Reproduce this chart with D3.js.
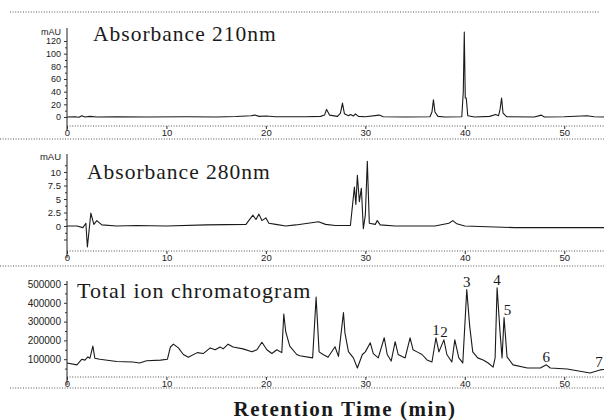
<!DOCTYPE html>
<html>
<head>
    <title>Chromatograms</title>
    <script src="https://cdnjs.cloudflare.com/ajax/libs/d3/7.8.5/d3.min.js"></script>
    <style>
        body { margin: 0; background: #fff; }
        svg { display: block; }
        .trace { fill: none; stroke: #1a1a1a; stroke-width: 1.1px; stroke-linejoin: round; }
        .dots { stroke: #555; stroke-width: 1px; stroke-dasharray: 1,1.6; }
        .axis path, .axis line { stroke: #333; }
        .axis text { font-family: "Liberation Sans", sans-serif; fill: #222; }
        .title { font-family: "Liberation Serif", serif; fill: #1a1a1a; }
    </style>
</head>
<body>
<div id="chart"></div>
<script>
// retention time axis
const timeTicks = [0, 10, 20, 30, 40, 50];

// Absorbance 210nm (min, mAU)
const abs210Time = [0, 0.8, 1.2, 1.5, 1.8, 2.3, 3, 5, 8, 12, 15, 17, 18.5, 18.9, 19.3, 20, 21, 24, 25.5, 25.9, 26.1, 26.4,
    27.2, 27.5, 27.7, 27.9, 28.3, 28.5, 28.8, 29.0, 29.3, 30, 31.4, 31.8, 34, 36.5, 36.7, 36.85, 37.0, 37.3, 38,
    39.7, 39.85, 39.95, 40.05, 40.15, 40.3, 41, 42.5, 43.1, 43.4, 43.55, 43.7, 43.85, 44.2, 47, 47.7, 48, 50, 52.3, 53, 54];
const abs210Value = [0, 0.5, -0.5, 2, 0, 1, 0, 0.5, 0, 0.5, 0, 0.8, 2, 3, 1, 1.5, 0.3, 0.5, 1, 3, 12, 3,
    1, 6, 22, 5, 2, 4, 1.5, 5, 1, 0.5, 3, 0.5, 0, 0.5, 8, 27, 8, 1, 0,
    0.5, 40, 134, 30, 30, 2, 0, 1, 4, 2, 12, 30, 6, 0.5, 0, 3, 0, 0.5, 2, 0.5, 0];
const abs210Ticks = [0, 20, 40, 60, 80, 100, 120];

// Absorbance 280nm (min, mAU)
const abs280Time = [0, 1.0, 1.6, 1.9, 2.05, 2.4, 2.7, 3.0, 3.5, 5, 7, 10, 14, 18, 18.2, 18.7, 19.0, 19.3, 19.6, 20.0, 20.3,
    21, 22, 23, 25.3, 26, 27, 28.5, 28.9, 29.05, 29.2, 29.4, 29.6, 29.8, 30.0, 30.2, 30.4, 31.0, 31.2, 31.5,
    33, 37, 38.4, 38.8, 39.2, 40, 45, 54];
const abs280Value = [0, 0, -0.3, 0.5, -3.9, 2.4, 0.3, 1.0, 0.2, 0, 0.1, 0, 0.2, 0.3, 0.8, 2.0, 1.2, 2.2, 1.0, 1.5, 0.5,
    0.3, 0, 0.2, 0.8, 0.3, 0.1, 0.1, 7.2, 4, 9.4, 4.5, 7, -0.5, 2, 12, 0.5, 0.3, 1.0, 0.2,
    0, 0, 0.5, 1.0, 0.4, 0, -0.3, -0.3];
const abs280Ticks = [0, 2.5, 5, 7.5, 10];

// Total ion chromatogram (min, counts)
const ticTime = [0, 1.0, 1.5, 1.8, 2.1, 2.3, 2.6, 2.8, 3.3, 5.0, 6.6, 7.3, 8.0, 9.4, 10.1, 10.4, 10.7, 11.2, 11.7, 12.2,
    13.1, 13.7, 14.4, 14.9, 15.4, 15.7, 16.2, 16.7, 17.7, 18.6, 19.1, 19.6, 20.1, 20.6, 21.1, 21.6, 21.8, 22.0, 22.4,
    23.1, 23.4, 24.7, 25.05, 25.35, 25.75, 26.25, 26.95, 27.3, 27.8, 27.95, 28.3, 28.8, 29.2, 29.7, 30.0, 30.5, 30.8,
    31.3, 31.9, 32.2, 32.6, 33.0, 33.3, 34.0, 34.5, 34.8, 35.2, 35.7, 36.2, 36.7, 37.1, 37.4, 37.9, 38.2, 38.7, 39.0,
    39.4, 39.8, 40.2, 40.5, 40.8, 41.3, 41.85, 42.35, 42.85, 43.05, 43.25, 43.55, 43.75, 43.95, 44.25, 44.85, 46.3,
    47.6, 48.2, 48.6, 50.3, 52.6, 53.6, 54];
const ticValue = [80000, 70000, 100000, 95000, 112000, 105000, 170000, 105000, 100000, 88000, 85000, 80000, 92000, 95000,
    100000, 165000, 180000, 160000, 125000, 110000, 135000, 130000, 160000, 150000, 165000, 155000, 180000, 165000,
    155000, 140000, 150000, 190000, 150000, 130000, 150000, 135000, 340000, 245000, 170000, 125000, 118000, 107000,
    430000, 139000, 125000, 110000, 166000, 115000, 348000, 240000, 140000, 107000, 53000, 125000, 139000, 187000,
    130000, 107000, 214000, 125000, 90000, 193000, 125000, 107000, 214000, 150000, 139000, 125000, 96000, 85000,
    214000, 139000, 203000, 125000, 85000, 203000, 107000, 80000, 470000, 273000, 139000, 107000, 96000, 80000,
    58000, 107000, 480000, 240000, 107000, 321000, 112000, 70000, 53000, 53000, 70000, 53000, 48000, 27000, 43000, 45000];
const ticTicks = [100000, 200000, 300000, 400000, 500000];

// numbered peaks in the TIC
const peakNames = ["1", "2", "3", "4", "5", "6", "7"];
const peakTimes = [37.1, 37.9, 40.2, 43.25, 44.3, 48.2, 53.5];
const peakTops = [214000, 203000, 470000, 480000, 321000, 70000, 45000];

const W = 604, H = 420;
const svg = d3.select('#chart').append('svg').attr('width', W).attr('height', H);

const x = d3.scaleLinear().domain([0, 54]).range([67, 604]);

// scanned-looking separator lines
[[10, 600, 12], [0, 604, 139], [0, 604, 266], [10, 604, 388]].forEach(s => {
    svg.append('line').attr('class', 'dots')
        .attr('x1', s[0]).attr('x2', s[1]).attr('y1', s[2]).attr('y2', s[2]);
});

function drawPanel(p) {
    const g = svg.append('g');
    // x axis (dotted line + ticks)
    g.append('line').attr('class', 'dots')
        .attr('x1', x(0)).attr('x2', W).attr('y1', p.axisY).attr('y2', p.axisY);
    const xa = g.append('g').attr('class', 'axis')
        .attr('transform', `translate(0,${p.axisY})`)
        .call(d3.axisBottom(x).tickValues(timeTicks).tickSize(3).tickFormat(d3.format('d')));
    xa.select('.domain').remove();
    xa.selectAll('text').attr('font-size', 9.5).attr('dy', '0.45em');

    // y axis
    const ya = g.append('g').attr('class', 'axis')
        .attr('transform', `translate(${x(0)},0)`)
        .call(d3.axisLeft(p.y).tickValues(p.ticks).tickSize(3).tickPadding(3).tickFormat(p.fmt));
    ya.select('.domain').remove();
    ya.selectAll('text').attr('font-size', p.fs);
    if (p.minor) {
        g.append('g').attr('class', 'axis')
            .attr('transform', `translate(${x(0)},0)`)
            .call(d3.axisLeft(p.y).tickValues(p.minor).tickSize(2).tickFormat(''))
            .select('.domain').remove();
    }
    g.append('line').attr('stroke', '#333').attr('stroke-width', 1.1)
        .attr('x1', x(0)).attr('x2', x(0)).attr('y1', p.top).attr('y2', p.bottom);
    if (p.unit) {
        g.append('text').attr('x', x(0) - 6).attr('y', p.unitY)
            .attr('text-anchor', 'end').attr('dy', '0.35em')
            .attr('font-family', 'Liberation Sans, sans-serif').attr('font-size', p.fs)
            .attr('fill', '#222').text(p.unit);
    }

    // trace
    const line = d3.line().x(i => x(p.t[i])).y(i => p.y(p.v[i]));
    g.append('path').attr('class', 'trace').attr('d', line(d3.range(p.t.length)));

    // title
    g.append('text').attr('class', 'title')
        .attr('x', p.titleX).attr('y', p.titleY)
        .attr('font-size', p.titleSize).attr('letter-spacing', 1)
        .text(p.title);
    return g;
}

const y210 = d3.scaleLinear().domain([0, 120]).range([117, 41]);
drawPanel({
    y: y210, t: abs210Time, v: abs210Value, ticks: abs210Ticks, fmt: d3.format('d'), fs: 9,
    minor: d3.range(10, 130, 20), axisY: 126, top: 28, bottom: 131, unit: 'mAU', unitY: 32,
    title: 'Absorbance 210nm', titleX: 93, titleY: 41, titleSize: 21.5
});

const y280 = d3.scaleLinear().domain([0, 10]).range([226, 172]);
drawPanel({
    y: y280, t: abs280Time, v: abs280Value, ticks: abs280Ticks.concat([-2.5]),
    fmt: d => d < 0 ? '' : (d % 1 ? d3.format('.1f')(d) : d3.format('d')(d)), fs: 9.5,
    minor: [-1.25, 1.25, 3.75, 6.25, 8.75, 11.25], axisY: 251, top: 154, bottom: 258, unit: 'mAU', unitY: 157,
    title: 'Absorbance 280nm', titleX: 87, titleY: 179, titleSize: 21.5
});

const yTic = d3.scaleLinear().domain([0, 500000]).range([378, 284]);
drawPanel({
    y: yTic, t: ticTime, v: ticValue, ticks: ticTicks, fmt: d3.format('d'), fs: 10,
    minor: [50000, 150000, 250000, 350000, 450000], axisY: 377, top: 281, bottom: 385,
    title: 'Total ion chromatogram', titleX: 77, titleY: 298, titleSize: 22
});

// peak numbers
svg.append('g').selectAll('text')
    .data(peakNames)
    .join('text')
    .attr('x', (d, i) => x(peakTimes[i]))
    .attr('y', (d, i) => yTic(peakTops[i]) - 3)
    .attr('text-anchor', 'middle')
    .attr('font-family', 'Liberation Serif, serif')
    .attr('font-size', 15)
    .attr('fill', '#1a1a1a')
    .text(d => d);

// x axis title
svg.append('text')
    .attr('x', 345).attr('y', 416)
    .attr('text-anchor', 'middle')
    .attr('font-family', 'Liberation Serif, serif')
    .attr('font-weight', 'bold')
    .attr('font-size', 21)
    .attr('letter-spacing', 1.5)
    .attr('fill', '#1a1a1a')
    .text('Retention Time (min)');
</script>
</body>
</html>
